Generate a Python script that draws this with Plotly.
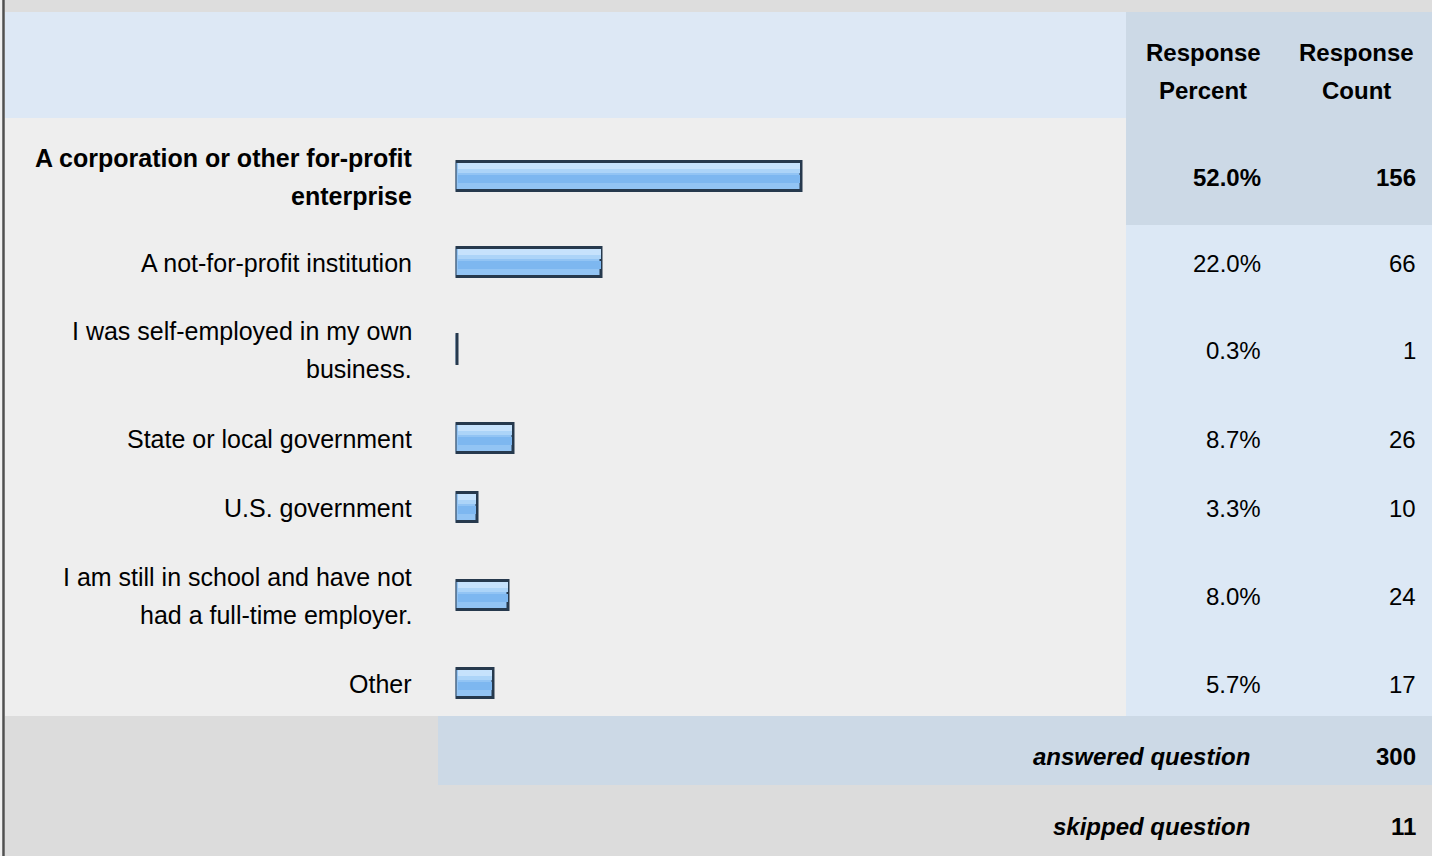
import plotly.graph_objects as go

# ---------------- data ----------------
categories = [
    "A corporation or other for-profit\nenterprise",
    "A not-for-profit institution",
    "I was self-employed in my own\nbusiness.",
    "State or local government",
    "U.S. government",
    "I am still in school and have not\nhad a full-time employer.",
    "Other",
]
response_percent = [52.0, 22.0, 0.3, 8.7, 3.3, 8.0, 5.7]
response_count = [156, 66, 1, 26, 10, 24, 17]
header_labels = ["Response\nPercent", "Response\nCount"]
summary_labels = ["answered question", "skipped question"]
summary_counts = [300, 11]
highlight_row = 0

# ---------------- layout constants (pixels) ----------------
W, H = 1432, 856
row_centers = [177, 263, 350, 439, 508, 596, 684]
summary_centers = [756, 826]
header_lines = [52, 90]
line_gap = 38
label_right = 414
pct_right = 1263
cnt_right = 1418
pct_head_c = 1203
cnt_head_c = 1356
col_split = 1126
FONT = "Liberation Sans, Arial, Helvetica, sans-serif"
FS = 24
FS_LABEL = 25

C_TOP = "#dddddd"
C_HEAD = "#dde8f5"
C_BODY = "#eeeeee"
C_COLHI = "#ccd9e6"
C_COL = "#dce8f5"
C_SUM = "#dcdcdc"


def px(x):
    return x / W


shapes = []


def rect(x0, y0, x1, y1, color):
    shapes.append(dict(type="rect", xref="paper", yref="y", x0=px(x0), x1=px(x1),
                       y0=y0, y1=y1, fillcolor=color, line=dict(width=0), layer="below"))


rect(0, 0, W, 12, C_TOP)
rect(5, 12, col_split, 118, C_HEAD)
rect(5, 118, col_split, 716, C_BODY)
rect(col_split, 12, W, 225, C_COLHI)
rect(col_split, 225, W, 716, C_COL)
rect(5, 716, 438, 785, C_SUM)
rect(438, 716, W, 785, C_COLHI)
rect(5, 785, W, H, C_SUM)
rect(0, 0, 5, H, "#f0f0f0")
shapes.append(dict(type="line", xref="paper", yref="y", x0=px(3.5), x1=px(3.5), y0=0, y1=H,
                   line=dict(color="#505050", width=2.5), layer="above"))

annotations = []


def txt(x, y, s, anchor="right", bold=False, italic=False, size=FS):
    if bold:
        s = "<b>" + s + "</b>"
    if italic:
        s = "<i>" + s + "</i>"
    annotations.append(dict(xref="paper", yref="y", x=px(x), y=y, text=s, showarrow=False,
                            xanchor=anchor, yanchor="middle",
                            font=dict(family=FONT, size=size, color="#000000")))


# headers
for label, cx in zip(header_labels, [pct_head_c, cnt_head_c]):
    for line, yy in zip(label.split("\n"), header_lines):
        txt(cx, yy, line, anchor="center", bold=True)

# rows
for i, (cat, p, n, cy) in enumerate(zip(categories, response_percent, response_count, row_centers)):
    b = i == highlight_row
    lines = cat.split("\n")
    k = len(lines)
    for j, line in enumerate(lines):
        yy = cy + (j - (k - 1) / 2) * line_gap
        txt(label_right, yy, line, bold=b, size=FS_LABEL)
    txt(pct_right, cy, f"{p:.1f}%", bold=b)
    txt(cnt_right, cy, str(n), bold=b)

# summary
for lab, n, cy in zip(summary_labels, summary_counts, summary_centers):
    txt(1252, cy, lab, bold=True, italic=True)
    txt(cnt_right, cy, str(n), bold=True)

# ---------------- bars ----------------
bar_y = [c - 1 for c in row_centers]
fig = go.Figure()
fig.add_trace(go.Bar(
    orientation="h", x=response_percent, y=bar_y, width=29,
    marker=dict(color="#92c4f4", line=dict(color="#26394d", width=3)),
    hoverinfo="skip", showlegend=False,
))
inset = 0.25
inner = [max(v - 2 * inset, 0) for v in response_percent]
fig.add_trace(go.Bar(
    orientation="h", x=inner, base=inset,
    y=bar_y, width=6, offset=-13,
    marker=dict(color="#c6e2fc", line=dict(width=0)),
    hoverinfo="skip", showlegend=False,
))
fig.add_trace(go.Bar(
    orientation="h", x=inner, base=inset,
    y=bar_y, width=4, offset=-7,
    marker=dict(color="#acd4f8", line=dict(width=0)),
    hoverinfo="skip", showlegend=False,
))
fig.add_trace(go.Bar(
    orientation="h", x=inner, base=inset,
    y=bar_y, width=8, offset=-1,
    marker=dict(color="#7db7f0", line=dict(width=0)),
    hoverinfo="skip", showlegend=False,
))

fig.update_layout(
    width=W, height=H, margin=dict(l=0, r=0, t=0, b=0),
    paper_bgcolor="#ffffff", plot_bgcolor="rgba(0,0,0,0)",
    barmode="overlay", bargap=0,
    xaxis=dict(domain=[px(455.5), px(455.5 + 665)], range=[0, 100], visible=False, fixedrange=True),
    yaxis=dict(domain=[0, 1], range=[H, 0], visible=False, fixedrange=True),
    shapes=shapes, annotations=annotations,
)

fig.write_html(
    "out.html",
    config={"displayModeBar": False},
    post_script="document.body.style.margin='0';document.body.style.padding='0';document.body.style.overflow='hidden';",
)
